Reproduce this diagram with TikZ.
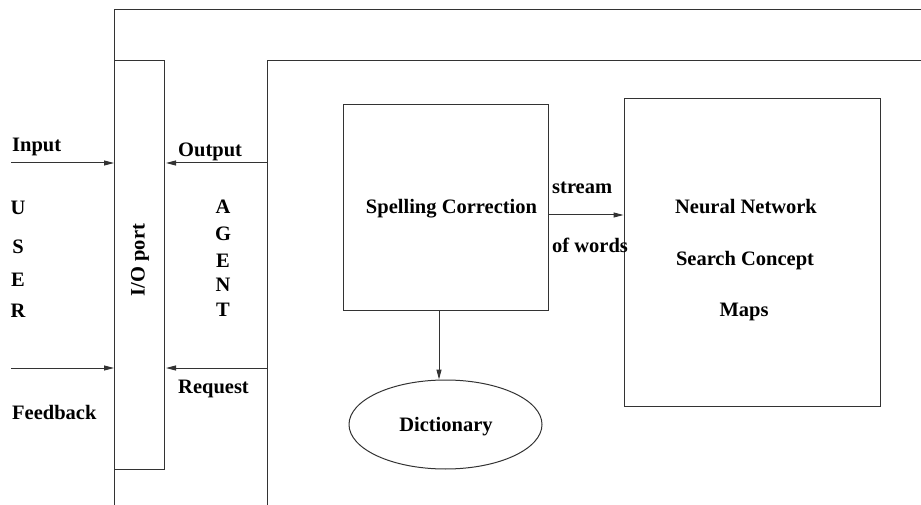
\documentclass[tikz,border=0pt]{standalone}
\usepackage{fontspec}
\setmainfont{Liberation Serif}
\usetikzlibrary{arrows.meta,shapes.geometric}
\begin{document}
\begin{tikzpicture}[x=1pt,y=-1pt,
  wire/.style={draw=black!80,line width=1pt},
  arr/.style={wire,-{Triangle[length=10pt,width=5pt]}},
  lbl/.style={font=\bfseries\fontsize{20.5}{24}\selectfont,inner sep=0pt,text=black},
  box/.style={wire,rectangle,inner sep=0pt},
]
\useasboundingbox (0,0) rectangle (921,505);

% enclosing frame and agent boundary
\draw[wire] (114,505) -- (114,10) -- (921,10);
\draw[wire] (267,505) -- (267,61) -- (921,61);

% I/O port
\node[box,minimum width=50pt,minimum height=408pt] (io) at (139.5,265) {};
\node[lbl,rotate=90] (iolbl) at (140,260) {I/O port};

% processing blocks
\node[box,minimum width=205pt,minimum height=205pt] (sc) at (445.5,207.5) {};
\node[lbl,anchor=base] (sclbl) at (451.5,214) {Spelling Correction};
\node[box,minimum width=256pt,minimum height=307pt] (nn) at (752,252.5) {};
\node[lbl,anchor=base] (nn1) at (746,213.3) {Neural Network};
\node[lbl,anchor=base] (nn2) at (745,265.7) {Search Concept};
\node[lbl,anchor=base] (nn3) at (744,316.7) {Maps};
\node[wire,ellipse,minimum width=193pt,minimum height=89pt,inner sep=0pt] (dict) at (445.5,424.5) {};
\node[lbl,anchor=base] (dictlbl) at (446,431.7) {Dictionary};

% connectors
\coordinate (inS) at (11,163);
\coordinate (fbS) at (11,368);
\coordinate (outS) at (267,163);
\coordinate (rqS) at (267,368);
\draw[arr] (inS) -- (inS -| io.west);
\draw[arr] (fbS) -- (fbS -| io.west);
\draw[arr] (outS) -- ([xshift=1pt]outS -| io.east);
\draw[arr] (rqS) -- ([xshift=1pt]rqS -| io.east);
\draw[arr] (sc.east |- 0,215) -- (nn.west |- 0,215);
\draw[arr] (sc.south -| 439,0) -- (dict.north -| 439,0);

% labels
\node[lbl,anchor=base west] (inlbl) at (12,152) {Input};
\node[lbl,anchor=base west] (fblbl) at (12,419) {Feedback};
\node[lbl,anchor=base west] (outlbl) at (178,157) {Output};
\node[lbl,anchor=base west] (rqlbl) at (178,393) {Request};
\node[lbl,anchor=base west] (st1) at (552,194) {stream};
\node[lbl,anchor=base west] (st2) at (552,252) {of words};

\foreach \c/\yb [count=\i] in {U/214.3,S/254,E/286,R/317.3}
  \node[lbl,anchor=base] (user\i) at (18,\yb) {\c};
\foreach \c/\yb [count=\i] in {A/214,G/240.7,E/267.3,N/291.7,T/316.7}
  \node[lbl,anchor=base] (agent\i) at (223,\yb) {\c};
\end{tikzpicture}
\end{document}
